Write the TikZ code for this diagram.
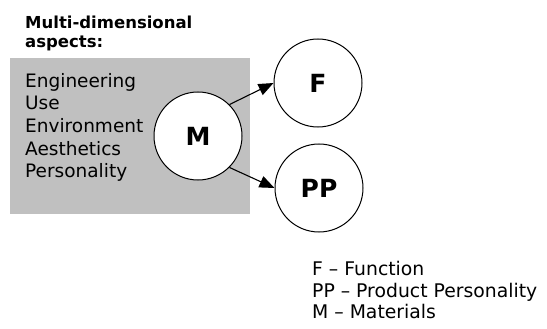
\documentclass[tikz,border=0pt]{standalone}
\usepackage{fontspec}
\setmainfont{DejaVu Sans}
\usetikzlibrary{arrows.meta}
\begin{document}
\begin{tikzpicture}[x=1pt,y=-1pt,
  circ/.style={circle,draw,line width=1pt,fill=white,minimum size=88pt,inner sep=0pt,font=\fontsize{25}{28}\selectfont\bfseries},
  conn/.style={line width=1.1pt,-{Triangle[length=15pt,width=12pt]}},
  txt/.style={anchor=base west,inner sep=0pt,font=\fontsize{18.5}{22}\selectfont},
  leg/.style={anchor=base west,inner sep=0pt,font=\fontsize{18.8}{22}\selectfont},
  ttl/.style={anchor=base west,inner sep=0pt,font=\fontsize{16.5}{19}\selectfont\bfseries}]
\useasboundingbox (0,0) rectangle (547,329);
\fill[fill={rgb,255:red,192;green,192;blue,192}] (10,58) rectangle (250,214);
\node[ttl] (t1) at (25,29) {Multi-dimensional};
\node[ttl] (t2) at (25,48) {aspects:};
\node[txt] (a1) at (25,88) {Engineering};
\node[txt] (a2) at (25,110) {Use};
\node[txt] (a3) at (25,132) {Environment};
\node[txt] (a4) at (25,155) {Aesthetics};
\node[txt] (a5) at (25,177) {Personality};
\node[circ] (M) at (198,136) {M};
\node[circ] (F) at (318,83) {F};
\node[circ] (PP) at (319,188) {PP};
\draw[conn] (M.45) -- (F.west);
\draw[conn] (M.-45) -- (PP.west);
\node[leg] (l1) at (312,275) {F – Function};
\node[leg] (l2) at (312,297) {PP – Product Personality};
\node[leg] (l3) at (312,318) {M – Materials};
\end{tikzpicture}
\end{document}
